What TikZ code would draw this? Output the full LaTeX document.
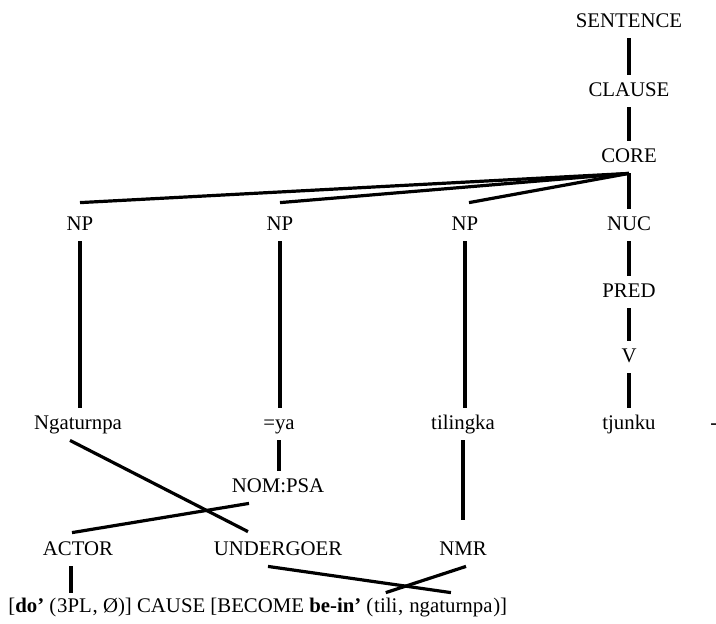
\documentclass[tikz,border=0pt]{standalone}
\usepackage{fontspec}
\setmainfont{Liberation Serif}
\usetikzlibrary{positioning}
\tikzset{
	tier/.style={anchor=base, inner xsep=1pt, inner ysep=0pt, text height=10.5pt, text depth=5.5pt},
	lsrpart/.style={inner xsep=0pt, inner ysep=2.5pt, text height=7pt, text depth=2pt},
	branch/.style={line width=1.6pt}
}

\begin{document}
\begin{tikzpicture}[x=0.5pt, y=-0.5pt, font=\fontsize{10.4}{12.4}\selectfont]
\useasboundingbox (0, 0) rectangle (716, 623);

\def\colA{80}
\def\colB{280}
\def\colC{465}
\def\colD{629}

\node[tier] (sentence) at (\colD, 27)  {SENTENCE};
\node[tier] (clause)   at (\colD, 96)  {CLAUSE};
\node[tier] (core)     at (\colD, 162) {CORE};

\node[tier] (np1) at (\colA, 230) {NP};
\node[tier] (np2) at (\colB, 230) {NP};
\node[tier] (np3) at (\colC, 230) {NP};
\node[tier] (nuc) at (\colD, 230) {NUC};

\node[tier] (pred) at (\colD, 297) {PRED};
\node[tier] (v)    at (\colD, 362) {V};

\node[tier] (ngat)   at (\colA - 2, 429) {Ngaturnpa};
\node[tier] (eqya)   at (\colB - 1, 429) {=ya};
\node[tier] (tiling) at (\colC - 2, 429) {tilingka};
\node[tier] (tjunku) at (\colD, 429)     {tjunku};
\node[tier, anchor=base west, inner xsep=0pt] (dash) at (710, 429) {-};

\node[tier] (nompsa) at (278, 492) {NOM:PSA};

\node[tier] (actor) at (78, 555)  {ACTOR};
\node[tier] (under) at (278, 555) {UNDERGOER};
\node[tier] (nmr)   at (463, 555) {NMR};

% logical structure, split up so the linked arguments can be reached
\node[lsrpart, anchor=base west] (lsr1) at (8, 612) {[\textbf{do’} (};
\node[lsrpart, base right=0pt of lsr1] (lsr2) {3PL};
\node[lsrpart, base right=0pt of lsr2] (lsr3) {, Ø)] CAUSE [BECOME \textbf{be-in’} (};
\node[lsrpart, base right=0pt of lsr3] (lsr4) {tili};
\node[lsrpart, base right=0pt of lsr4] (lsr5) {,\kern0.25em};
\node[lsrpart, base right=0pt of lsr5] (lsr6) {ngaturnpa};
\node[lsrpart, base right=0pt of lsr6] (lsr7) {)]};

\draw[branch] (sentence) -- (clause);
\draw[branch] (clause) -- (core);

\draw[branch] (core.south) -- ([yshift=3pt]np1.north);
\draw[branch] (core.south) -- ([yshift=3pt]np2.north);
\draw[branch] (core.south) -- ([xshift=2pt, yshift=3pt]np3.north);
\draw[branch] (core.south) -- (nuc.north);

\draw[branch] (nuc) -- (pred);
\draw[branch] (pred) -- (v);
\draw[branch] (v) -- (tjunku);

\draw[branch] (np1.south) -- (np1.south |- ngat.north);
\draw[branch] (np2.south) -- (np2.south |- eqya.north);
\draw[branch] (np3.south) -- (np3.south |- tiling.north);

\draw[branch] (eqya.south) -- (eqya.south |- nompsa.north);
\draw[branch] ([xshift=-14.5pt]nompsa.south) -- ([xshift=-3pt, yshift=0.5pt]actor.north);
\draw[branch] ([xshift=-4pt]ngat.south) -- ([xshift=-15pt, yshift=1pt]under.north);
\draw[branch, shorten >=7pt] (tiling.south) -- (tiling.south |- nmr.north);

\draw[branch] ([xshift=-3.5pt]actor.south) -- ([xshift=-3.5pt]actor.south |- lsr2.north);
\draw[branch] ([xshift=-5pt]under.south) -- (lsr6.north);
\draw[branch] ([xshift=1.5pt]nmr.south) -- (lsr4.north);
\end{tikzpicture}
\end{document}
